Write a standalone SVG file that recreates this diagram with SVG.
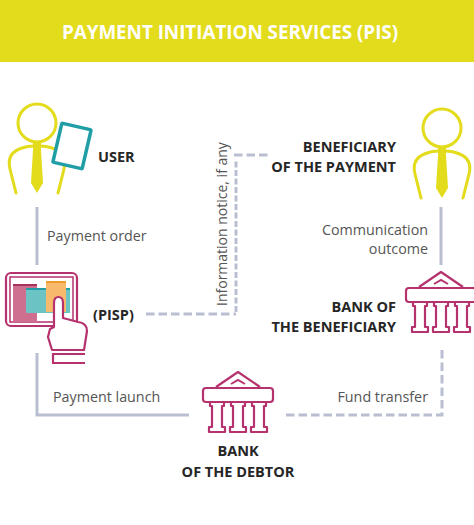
<svg xmlns="http://www.w3.org/2000/svg" width="474" height="525" viewBox="0 0 474 525">
<style>
text{font-family:"Open Sans","Noto Sans","Liberation Sans",sans-serif}
.b{font-size:14.5px;font-weight:700;fill:#262626}
.l{font-size:14.3px;fill:#555}
.y{fill:none;stroke:#e3dc1c;stroke-width:3;stroke-linecap:round}
.ty{fill:#e3dc1c}
.m{fill:#fff;stroke:#b5326e;stroke-width:2.2;stroke-linejoin:round}
.c{fill:none;stroke:#b9bfd0;stroke-width:3}
.d{stroke-dasharray:8.500 4}
.v{stroke-dasharray:6 2.500}
</style>
<defs>
<g id="person">
<circle cx="0" cy="0" r="19" class="y"/>
<path class="y" d="M-21 70L-27 46Q-31 30 -15 25Q-10 23 -3 23H3Q10 23 15 25Q31 30 27 46L21 70"/>
<path class="ty" d="M-4 19H4V27L6 60L0 70L-6 60L-4 27Z"/>
</g>
<g id="bank">
<path class="m" d="M-22 -6L0 -21L22 -6" fill="none"/>
<path d="M-7 -9L0 -13L7 -9" fill="none" stroke="#b5326e" stroke-width="2"/>
<rect class="m" x="-35" y="-5" width="70" height="14" rx="3"/>
<path class="m" d="M-28 9H-14V13H-16V34H-13V39H-29V34H-26V13H-28Z"/>
<path class="m" d="M-7 9H7V13H5V34H8V39H-8V34H-5V13H-7Z"/>
<path class="m" d="M14 9H28V13H26V34H29V39H13V34H16V13H14Z"/>
</g>
</defs>
<rect width="474" height="62" fill="#e3dc1c"/>
<text x="230" y="39" text-anchor="middle" font-size="18.8" font-weight="700" fill="#fff">PAYMENT INITIATION SERVICES (PIS)</text>
<g id="connectors">
<path class="c" d="M37 207V265"/>
<path class="c" d="M37 353V415H189"/>
<path class="c d" d="M146 314H236"/>
<path class="c v" d="M236 312V160"/>
<path class="c d" d="M234 155H268"/>
<path class="c" d="M441 207V265"/>
<path class="c d" d="M286 415H442V350"/>
</g>
<g id="user">
<use href="#person" x="37" y="123"/>
<g transform="rotate(13 72 146)"><rect x="57" y="126" width="30" height="40" rx="1" fill="#fff" stroke="#1f9ea6" stroke-width="3.5"/></g>
<text class="b" x="98" y="162" font-size="15">USER</text>
</g>
<g id="beneficiary">
<use href="#person" x="442" y="128"/>
<text class="b" x="396" y="152" text-anchor="end">BENEFICIARY</text>
<text class="b" x="396" y="172" text-anchor="end">OF THE PAYMENT</text>
</g>
<g id="pisp">
<rect x="6" y="273" width="71" height="53" rx="5" fill="#fff" stroke="#b5326e" stroke-width="2.2"/>
<rect x="10" y="277" width="63" height="45" fill="none" stroke="#b5326e" stroke-width="1.5"/>
<rect x="13" y="285" width="24" height="37" fill="#cf6f8f"/>
<rect x="13" y="284" width="24" height="2" fill="#a8325f"/>
<rect x="26" y="288" width="44" height="25" fill="#6cc3c4"/>
<rect x="26" y="288" width="44" height="2" fill="#1f9ea6"/>
<rect x="46" y="281" width="20" height="31" fill="#f7b96b"/>
<rect x="46" y="281" width="20" height="2" fill="#ef9a2c"/>
<path d="M52 350L48 337L50 329L54 327V303Q54 297 58.500 297Q63 297 63 303V318L78 322Q87 323 87 331L84 350Z" class="m"/>
<path d="M85 354H53V363H85" fill="#fff" stroke="#b5326e" stroke-width="2.2"/>
<text class="b" x="93" y="320">(PISP)</text>
</g>
<g id="bank-beneficiary">
<use href="#bank" x="441" y="293"/>
<text class="b" x="396" y="312" text-anchor="end">BANK OF</text>
<text class="b" x="396" y="332" text-anchor="end">THE BENEFICIARY</text>
</g>
<g id="bank-debtor">
<use href="#bank" x="238" y="393"/>
<text class="b" x="238" y="456" text-anchor="middle">BANK</text>
<text class="b" x="238" y="477" text-anchor="middle">OF THE DEBTOR</text>
</g>
<g id="labels">
<text class="l" x="47" y="241">Payment order</text>
<text class="l" x="53" y="402">Payment launch</text>
<text class="l" x="428" y="235" text-anchor="end">Communication</text>
<text class="l" x="428" y="254" text-anchor="end">outcome</text>
<text class="l" x="428" y="402" text-anchor="end">Fund transfer</text>
<text class="l" style="font-size:14px" transform="translate(227 306) rotate(-90)">Information notice, if any</text>
</g>
</svg>
